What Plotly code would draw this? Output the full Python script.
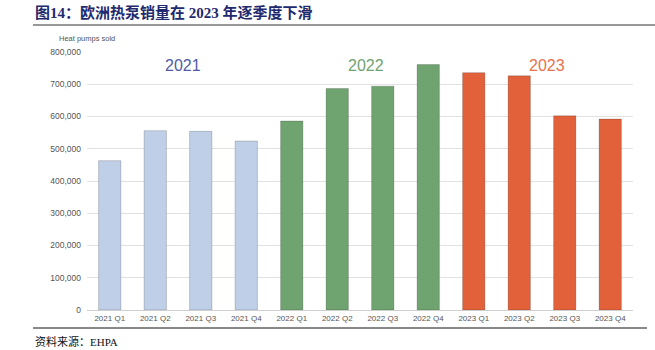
import plotly.graph_objects as go

categories = ["2021 Q1", "2021 Q2", "2021 Q3", "2021 Q4",
              "2022 Q1", "2022 Q2", "2022 Q3", "2022 Q4",
              "2023 Q1", "2023 Q2", "2023 Q3", "2023 Q4"]
sales = [463000, 556000, 554000, 524000,
         586000, 687000, 694000, 761000,
         736000, 726000, 602000, 592000]
year_of_bar = ["2021"] * 4 + ["2022"] * 4 + ["2023"] * 4
year_colors = {"2021": "#c0cfe8", "2022": "#6fa36f", "2023": "#e2613b"}
year_text_colors = {"2021": "#4f5aa6", "2022": "#6fa36f", "2023": "#e8714c"}
y_ticks = [0, 100000, 200000, 300000, 400000, 500000, 600000, 700000, 800000]
title_text = "图14：欧洲热泵销量在 2023 年逐季度下滑"
source_text = "资料来源：EHPA"
axis_title = "Heat pumps sold"

W, H = 655, 350
L, R, T, B = 87, 22, 52, 40
pw, ph = W - L - R, H - T - B

def px(x):
    return (x - L) / pw

def py(y):
    return (H - B - y) / ph

fig = go.Figure()
fig.add_trace(go.Bar(
    x=categories, y=sales,
    marker=dict(color=[year_colors[y] for y in year_of_bar],
                line=dict(color="rgba(0,0,0,0.18)", width=1)),
    width=0.49,
    hoverinfo="x+y",
))

sans = "Liberation Sans, Arial, sans-serif"
fig.update_layout(
    width=W, height=H,
    margin=dict(l=L, r=R, t=T, b=B),
    paper_bgcolor="white", plot_bgcolor="white",
    showlegend=False,
    font=dict(family=sans, size=8, color="#555"),
    xaxis=dict(showgrid=False, showline=True, linecolor="#cfcfcf", linewidth=1,
               ticks="", tickfont=dict(size=8, color="#555"), fixedrange=True),
    yaxis=dict(range=[0, 800000], tickvals=y_ticks, tickformat=",",
               showgrid=True, gridcolor="#e2e2e2", gridwidth=1,
               zeroline=False, showline=False,
               ticks="", tickfont=dict(size=8.5, color="#555"),
               ticklabelstandoff=5, fixedrange=True),
)

annotations = [
    dict(text="<b>" + title_text + "</b>", x=px(33), y=py(13), xanchor="left", yanchor="middle",
         font=dict(family="Liberation Serif, Noto Sans CJK SC", size=15, color="#1f2a6e"), showarrow=False),
    dict(text=axis_title, x=px(57), y=py(39), xanchor="left", yanchor="middle",
         font=dict(family=sans, size=7.5, color="#555555"), showarrow=False),
    dict(text=source_text, x=px(33), y=py(341), xanchor="left", yanchor="middle",
         font=dict(family="Liberation Serif, Noto Sans CJK SC", size=11, color="#111"), showarrow=False),
]
for yr, xc in zip(["2021", "2022", "2023"], [183, 366, 547]):
    annotations.append(dict(text=yr, x=px(xc), y=py(65), xanchor="center", yanchor="middle",
                            font=dict(family=sans, size=16, color=year_text_colors[yr]), showarrow=False))
for a in annotations:
    a.update(xref="paper", yref="paper")
fig.update_layout(annotations=annotations)

fig.update_layout(shapes=[
    dict(type="line", xref="paper", yref="paper", x0=px(33), x1=px(655), y0=py(25), y1=py(25),
         line=dict(color="#333", width=1.2)),
    dict(type="line", xref="paper", yref="paper", x0=px(33), x1=px(647), y0=py(328), y1=py(328),
         line=dict(color="#888", width=2)),
])

fig.write_html("out.html")
